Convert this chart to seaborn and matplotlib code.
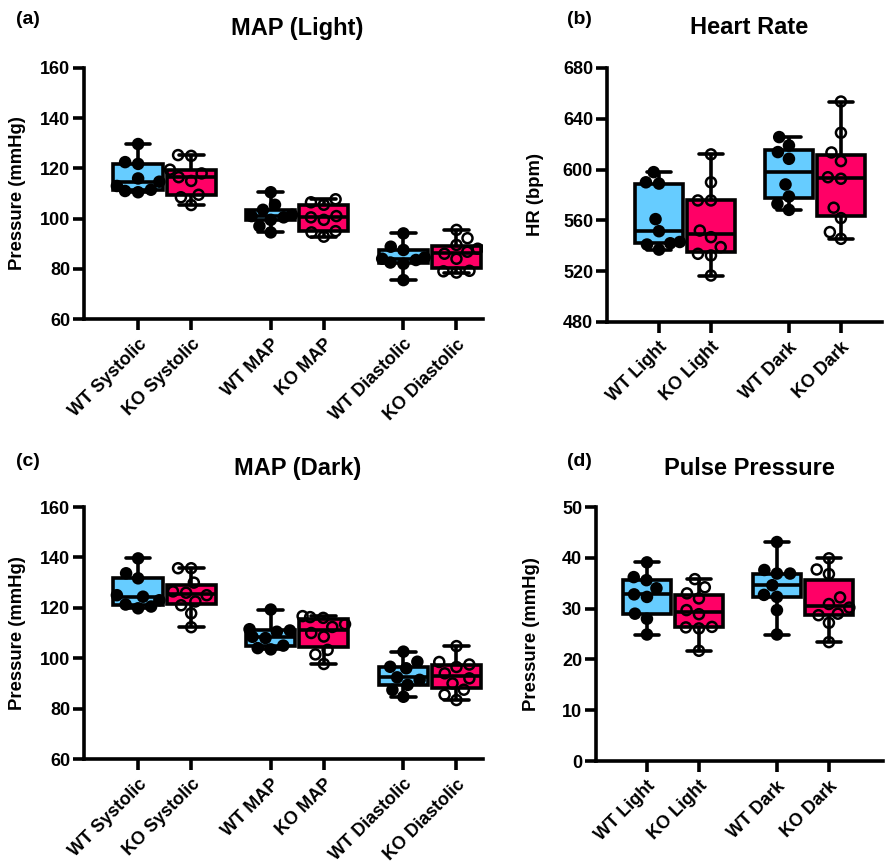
import numpy as np
import pandas as pd
import matplotlib
matplotlib.use("Agg")
import matplotlib.pyplot as plt
import seaborn as sns
from matplotlib.collections import PathCollection

sns.set_style("ticks")
plt.rcParams["font.family"] = ["Liberation Sans", "DejaVu Sans"]
plt.rcParams["font.weight"] = "bold"
plt.rcParams["axes.labelweight"] = "bold"
for k in ("text.color", "axes.labelcolor", "xtick.color", "ytick.color", "axes.edgecolor"):
    plt.rcParams[k] = "black"

# ---------------- data ----------------
map_labels = ["WT Systolic", "KO Systolic", "WT MAP", "KO MAP", "WT Diastolic", "KO Diastolic"]
hr_labels = ["WT Light", "KO Light", "WT Dark", "KO Dark"]

# (a) MAP (Light)
light_wt_sys = [129.7, 122.5, 121.8, 116.0, 114.7, 113.0, 111.5, 111.0, 110.5]
light_ko_sys = [125.3, 125.0, 119.5, 118.0, 116.5, 115.0, 109.5, 108.5, 105.4]
light_wt_map = [110.5, 105.5, 103.5, 101.5, 101.0, 100.5, 99.5, 97.0, 94.5]
light_ko_map = [107.7, 106.5, 105.5, 101.0, 100.5, 99.5, 95.0, 94.5, 92.8]
light_wt_dia = [94.1, 88.8, 87.5, 84.5, 84.0, 83.5, 82.5, 82.0, 75.5]
light_ko_dia = [95.5, 92.2, 89.5, 88.0, 86.8, 86.0, 84.0, 79.2, 79.0, 78.5]

# (c) MAP (Dark)
dark_wt_sys = [139.6, 133.7, 131.7, 125.0, 124.4, 123.0, 121.3, 120.5, 119.8]
dark_ko_sys = [135.7, 135.7, 130.0, 126.5, 126.0, 125.0, 122.5, 121.0, 117.8, 112.3]
dark_wt_map = [119.3, 111.5, 111.0, 110.5, 108.5, 108.0, 105.0, 104.0, 103.5]
dark_ko_map = [116.7, 116.3, 116.0, 113.5, 112.4, 110.0, 108.6, 103.3, 101.5, 97.7]
dark_wt_dia = [102.6, 98.6, 96.6, 96.0, 92.4, 91.4, 89.4, 87.4, 84.7]
dark_ko_dia = [104.8, 98.5, 97.5, 96.5, 94.0, 92.0, 90.0, 87.5, 85.5, 83.4]

# (b) Heart Rate
hr_wt_light = [598, 590, 589, 561, 551.5, 543, 542, 541, 537]
hr_ko_light = [612, 590, 575.7, 575.7, 552, 546.8, 539, 533.7, 532.4, 516.6]
hr_wt_dark = [625.6, 619, 613.8, 608.5, 588.3, 578.8, 573, 568.3]
hr_ko_dark = [653.6, 629, 613.5, 606.7, 594, 592.8, 570, 561.8, 550.8, 545.5]

# (d) Pulse Pressure
pp_wt_light = [39.1, 36.2, 35.6, 34.0, 32.8, 32.3, 29.0, 28.0, 24.9]
pp_ko_light = [35.8, 34.2, 33.0, 32.0, 29.7, 28.9, 26.4, 26.3, 26.1, 21.7]
pp_wt_dark = [43.1, 37.6, 36.9, 36.9, 34.6, 32.7, 32.3, 29.7, 24.9]
pp_ko_dark = [39.9, 37.7, 36.8, 32.2, 30.9, 30.2, 29.0, 28.7, 27.2, 23.4]

# layout (category positions on the axis)
map_pos = [0, 1, 2.5, 3.5, 5, 6]
hr_pos = [0, 1, 2.5, 3.5]

box_pal = {"WT": "#66CCFF", "KO": "#FF0066"}
dot_pal = {"WT": "#000000", "KO": "#FFFFFF"}
LW = 2.6


def panel(ax, labels, positions, groups, ylim, yticks, ylabel, xlim, label_x):
    rows = []
    for lab, pos, vals in zip(labels, positions, groups):
        geno = lab.split()[0]
        for v in vals:
            rows.append({"pos": pos, "value": v, "geno": geno})
    df = pd.DataFrame(rows)
    sns.boxplot(data=df, x="pos", y="value", hue="geno", native_scale=True,
                dodge=False, palette=box_pal, width=0.93, whis=(0, 100),
                linecolor="black", linewidth=LW, saturation=1, legend=False,
                ax=ax)
    sns.swarmplot(data=df, x="pos", y="value", hue="geno", native_scale=True,
                  dodge=False, palette=dot_pal, size=7.2, linewidth=1.8,
                  edgecolor="black", legend=False, warn_thresh=1, ax=ax)
    for coll in ax.collections:
        if isinstance(coll, PathCollection):
            fc = coll.get_facecolor()
            if len(fc) and np.allclose(fc[0][:3], 1.0):
                coll.set_facecolor("none")
    ax.set_xlim(*xlim)
    ax.set_ylim(*ylim)
    ax.set_yticks(yticks)
    ax.set_xticks(positions)
    ax.set_xticklabels(labels, rotation=45, ha="right", va="top",
                       rotation_mode="anchor", fontsize=13.5, fontweight="bold")
    ax.set_xlabel("")
    ax.set_ylabel(ylabel, fontsize=13.3, fontweight="bold")
    ax.yaxis.set_label_coords(label_x, 0.5)
    for t in ax.get_yticklabels():
        t.set_fontweight("bold")
    ax.tick_params(axis="both", width=LW, length=8, labelsize=13, color="black", pad=2)
    ax.tick_params(axis="x", pad=4)
    sns.despine(ax=ax)
    for s in ("left", "bottom"):
        ax.spines[s].set_linewidth(LW)
        ax.spines[s].set_color("black")


W, H = 885, 867
fig = plt.figure(figsize=(W / 100, H / 100), dpi=100)


def axrect(l, r, t, b):
    return [l / W, 1 - b / H, (r - l) / W, (b - t) / H]


ax_a = fig.add_axes(axrect(84, 483, 68, 319))
ax_b = fig.add_axes(axrect(607, 882, 68, 322))
ax_c = fig.add_axes(axrect(84, 483, 507, 759))
ax_d = fig.add_axes(axrect(596, 883, 507, 761))

panel(ax_a, map_labels, map_pos,
      [light_wt_sys, light_ko_sys, light_wt_map, light_ko_map, light_wt_dia, light_ko_dia],
      (60, 160), [60, 80, 100, 120, 140, 160], "Pressure (mmHg)", (-1.02, 6.5), -0.145)
panel(ax_b, hr_labels, hr_pos,
      [hr_wt_light, hr_ko_light, hr_wt_dark, hr_ko_dark],
      (480, 680), [480, 520, 560, 600, 640, 680], "HR (bpm)", (-1.0, 4.29), -0.229)
panel(ax_c, map_labels, map_pos,
      [dark_wt_sys, dark_ko_sys, dark_wt_map, dark_ko_map, dark_wt_dia, dark_ko_dia],
      (60, 160), [60, 80, 100, 120, 140, 160], "Pressure (mmHg)", (-1.02, 6.5), -0.145)
panel(ax_d, hr_labels, hr_pos,
      [pp_wt_light, pp_ko_light, pp_wt_dark, pp_ko_dark],
      (0, 50), [0, 10, 20, 30, 40, 50], "Pressure (mmHg)", (-0.98, 4.54), -0.195)

titles = [("MAP (Light)", 297, 28), ("Heart Rate", 749, 28),
          ("MAP (Dark)", 298, 468), ("Pulse Pressure", 749, 468)]
for txt, x, y in titles:
    fig.text(x / W, 1 - y / H, txt, ha="center", va="center", fontsize=17, fontweight="bold")

tags = [("(a)", 16, 20), ("(b)", 567, 20), ("(c)", 16, 462), ("(d)", 567, 462)]
for txt, x, y in tags:
    fig.text(x / W, 1 - y / H, txt, ha="left", va="center", fontsize=14, fontweight="bold")

fig.savefig("out.png", dpi=100)
